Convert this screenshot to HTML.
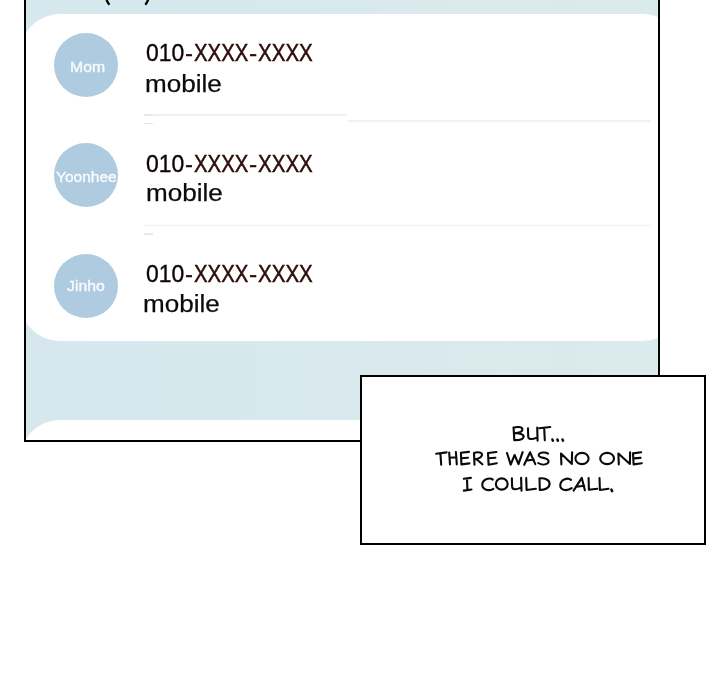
<!DOCTYPE html>
<html><head><meta charset="utf-8">
<style>
html,body{margin:0;padding:0;background:#fff;}
body{width:720px;height:700px;position:relative;overflow:hidden;font-family:"Liberation Sans",sans-serif;}
#panel{position:absolute;left:26px;top:0;width:632px;height:440px;background:linear-gradient(90deg,#d6e8ee 0%,#dbeaec 100%);overflow:hidden;box-shadow:0 0 0 2px #000;}
#in{position:absolute;left:-26px;top:0;width:720px;height:700px;}
.card{position:absolute;left:20px;width:663px;background:#fff;border-radius:40px;}
#c1{top:14px;height:326.5px;}
#c2{top:420px;height:120px;}
.av{position:absolute;left:54px;width:64px;height:64px;border-radius:50%;background:#aecbe0;}
.t{position:absolute;line-height:30px;white-space:nowrap;transform-origin:0 0;}
#txt{position:absolute;left:0;top:0;width:720px;height:700px;will-change:transform;}
.sep{position:absolute;height:1.7px;background:#eef1f6;}
#box{position:absolute;left:360px;top:375px;width:346px;height:170px;box-sizing:border-box;border:2px solid #000;background:#fff;}
svg{position:absolute;left:0;top:0;}
</style></head><body>
<div id="panel"><div id="in">
<svg width="720" height="20" viewBox="0 0 720 20"><path d="M106.4 -1 Q107.4 2.6 109.4 4.7 M148.3 -1 Q147.3 2.6 145.3 4.7" stroke="#000" stroke-width="2.3" fill="none"/></svg>
<div class="card" id="c1"></div>
<div class="card" id="c2"></div>
<div class="av" style="top:32.6px"></div>
<div class="av" style="top:142.8px"></div>
<div class="av" style="top:253.5px"></div>
<div id="txt"><div class="t" style="left:145.87px;top:38.00px;font-size:24.8px;color:#0c0403;transform:scaleX(0.9236);-webkit-text-stroke:0.35px #0c0403;">010</div>
<div class="t" style="left:185.10px;top:38.00px;font-size:24.8px;color:#2b0c07;transform:scaleX(0.9645);-webkit-text-stroke:0.3px #2b0c07;">-</div>
<div class="t" style="left:193.60px;top:38.00px;font-size:24.8px;color:#2b0c07;transform:scaleX(0.8214);-webkit-text-stroke:0.45px #2b0c07;">XXXX</div>
<div class="t" style="left:249.40px;top:38.00px;font-size:24.8px;color:#2b0c07;transform:scaleX(0.9897);-webkit-text-stroke:0.3px #2b0c07;">-</div>
<div class="t" style="left:258.30px;top:38.00px;font-size:24.8px;color:#2b0c07;transform:scaleX(0.8281);-webkit-text-stroke:0.45px #2b0c07;">XXXX</div>
<div class="t" style="left:145.87px;top:149.00px;font-size:24.8px;color:#0c0403;transform:scaleX(0.9236);-webkit-text-stroke:0.35px #0c0403;">010</div>
<div class="t" style="left:185.10px;top:149.00px;font-size:24.8px;color:#2b0c07;transform:scaleX(0.9645);-webkit-text-stroke:0.3px #2b0c07;">-</div>
<div class="t" style="left:193.60px;top:149.00px;font-size:24.8px;color:#2b0c07;transform:scaleX(0.8214);-webkit-text-stroke:0.45px #2b0c07;">XXXX</div>
<div class="t" style="left:249.40px;top:149.00px;font-size:24.8px;color:#2b0c07;transform:scaleX(0.9897);-webkit-text-stroke:0.3px #2b0c07;">-</div>
<div class="t" style="left:258.30px;top:149.00px;font-size:24.8px;color:#2b0c07;transform:scaleX(0.8281);-webkit-text-stroke:0.45px #2b0c07;">XXXX</div>
<div class="t" style="left:145.87px;top:259.00px;font-size:24.8px;color:#0c0403;transform:scaleX(0.9236);-webkit-text-stroke:0.35px #0c0403;">010</div>
<div class="t" style="left:185.10px;top:259.00px;font-size:24.8px;color:#2b0c07;transform:scaleX(0.9645);-webkit-text-stroke:0.3px #2b0c07;">-</div>
<div class="t" style="left:193.60px;top:259.00px;font-size:24.8px;color:#2b0c07;transform:scaleX(0.8214);-webkit-text-stroke:0.45px #2b0c07;">XXXX</div>
<div class="t" style="left:249.40px;top:259.00px;font-size:24.8px;color:#2b0c07;transform:scaleX(0.9897);-webkit-text-stroke:0.3px #2b0c07;">-</div>
<div class="t" style="left:258.30px;top:259.00px;font-size:24.8px;color:#2b0c07;transform:scaleX(0.8281);-webkit-text-stroke:0.45px #2b0c07;">XXXX</div>
<div class="t" style="left:145.08px;top:69.00px;font-size:24.8px;color:#0b0b0b;transform:scaleX(1.0504);-webkit-text-stroke:0.25px #0b0b0b;">mobile</div>
<div class="t" style="left:145.93px;top:178.00px;font-size:24.8px;color:#0b0b0b;transform:scaleX(1.0504);-webkit-text-stroke:0.25px #0b0b0b;">mobile</div>
<div class="t" style="left:143.18px;top:289.00px;font-size:24.8px;color:#0b0b0b;transform:scaleX(1.0504);-webkit-text-stroke:0.25px #0b0b0b;">mobile</div>
<div class="t" style="left:70.09px;top:52.00px;font-size:14px;color:#f7fbfe;transform:scaleX(1.1280);-webkit-text-stroke:0.35px #f7fbfe;">Mom</div>
<div class="t" style="left:55.95px;top:161.80px;font-size:14px;color:#f7fbfe;transform:scaleX(1.1070);-webkit-text-stroke:0.35px #f7fbfe;">Yoonhee</div>
<div class="t" style="left:66.70px;top:270.50px;font-size:14px;color:#f7fbfe;transform:scaleX(1.1300);-webkit-text-stroke:0.35px #f7fbfe;">Jinho</div>
</div><div class="sep" style="left:143.7px;top:114.4px;width:203px"></div>
<div class="sep" style="left:143.7px;top:114.4px;width:9px;background:#e4e8ee"></div>
<div class="sep" style="left:347.5px;top:119.9px;width:303.5px"></div>
<div class="sep" style="left:143.7px;top:122.6px;width:9px;background:#e4e8ee"></div>
<div class="sep" style="left:143.7px;top:224.8px;width:507.5px"></div>
<div class="sep" style="left:143.7px;top:233px;width:9px;background:#e4e8ee"></div>
</div></div>
<div id="box"><div style="position:absolute;left:0;top:49px;width:342px;text-align:center;font-size:18px;line-height:24.5px;letter-spacing:1.4px;color:transparent;">BUT...<br>THERE WAS NO ONE<br>I COULD CALL.</div></div>
<svg width="720" height="700" viewBox="0 0 720 700" style="position:absolute;left:0;top:0">
<g fill="none" stroke="#0a0a0a" stroke-width="2.1" stroke-linecap="round" stroke-linejoin="round">
<!-- BUT... -->
<path d="M513.6 427.6 L514.3 440.1 M513.4 427.8 C517 426.4 522.6 426.6 522.4 429.6 C522.2 432 518 433 514.6 433.4 C519 433 524 434 523.6 436.8 C523.2 439.4 518 440.2 514.3 440.1"/>
<path d="M528 428.2 L528.2 436.5 C528.4 439.6 531.5 439.8 537 437.6 M537.2 427.6 L537.6 440.6"/>
<path d="M539.2 428.3 L550.2 427 M544.2 427.8 L544.8 440.2"/>
<path d="M552.4 439.5 L552.9 440.7 M557.4 439.5 L557.9 440.7 M562.5 439.5 L563 440.7" stroke-width="2.5"/>
<!-- THERE -->
<path d="M436.2 453.8 L446.6 452.4 M440.4 453.3 L441.2 464.8"/>
<path d="M449.2 452.6 L450 464.4 M455.9 452 L456.8 464.4 M449.7 457.8 L456.3 457.3"/>
<path d="M460.9 452.8 L461.4 464.4 L469.4 463.4 M460.9 452.8 L469 451.9 M461.2 458.2 L468 457.7"/>
<path d="M474 453.2 L474.5 464.8 M474 453 C478 451.6 482.6 452.4 482 455 C481.4 457.8 478 458.8 475 459.2 M476.2 459 L482.4 464.3"/>
<path d="M488 453 L488.6 464.8 L496.8 463.3 M488 453 L496.4 452 M488.4 458.2 L495.4 457.7"/>
<!-- WAS -->
<path d="M507 453 L510.7 464.6 L514.6 455 L518.5 464.2 L522.6 452.2"/>
<path d="M524.2 464.8 L530.1 452.3 L535.3 464.2 M526.6 460.5 L533.8 459.6"/>
<path d="M548 453.6 C545.5 451.8 539 452 538.7 455.2 C538.5 457.6 543 457.6 545.6 458.4 C549 459.4 549.6 462 547 463.6 C544.5 465 540.5 464.6 538.2 463"/>
<!-- NO -->
<path d="M561 453.5 L561.4 464.4 M561 453.5 L571.6 463.8 M572.1 452.2 L571.8 464"/>
<ellipse cx="582" cy="458.5" rx="6.6" ry="5.6"/>
<!-- ONE -->
<ellipse cx="607.1" cy="458.5" rx="6.9" ry="5.6"/>
<path d="M618.4 453.5 L618.8 464.4 M618.4 453.5 L629.6 463.8 M630.1 452.3 L629.9 464"/>
<path d="M633 453.4 L633.6 464.4 L641.8 463.2 M633 453.4 L641.2 452.2 M633.4 458.4 L640.6 457.9"/>
<!-- I -->
<path d="M463.8 478.8 L470.9 477.9 M467 478.5 L467.4 490 M463.8 490.6 L471.5 489.5"/>
<!-- COULD -->
<path d="M492.8 479.6 C490 477.4 483 478.6 482.3 484.2 C481.8 489.4 488 491.8 493.4 488.8"/>
<ellipse cx="501.75" cy="484" rx="5.9" ry="5.6"/>
<path d="M511.9 478.3 L512.1 486.4 C512.3 489.8 515.5 490 520.8 487.6 M521.1 477.8 L521.5 490.8"/>
<path d="M526.2 478 L526.6 490 L535.9 488.8"/>
<path d="M539.5 478.3 L539.8 490 M539.5 478.5 C544 477.6 549.6 479.5 549.6 483.8 C549.6 488 544.5 490 539.8 490"/>
<!-- CALL. -->
<path d="M571 479.9 C568 477.4 561 478.8 560.3 484.6 C559.8 489.8 566 492 571.7 488.2"/>
<path d="M573.6 490.6 L581.8 477.9 L584.9 490.3 M576.6 486.8 L584.2 485.7"/>
<path d="M588.6 478 L588.9 489.8 L597.3 488.8"/>
<path d="M599.5 478 L599.9 490 L608.5 488.8"/>
<path d="M611.4 489.6 L612.1 491.1" stroke-width="2.5"/>
</g></svg>

</body></html>
